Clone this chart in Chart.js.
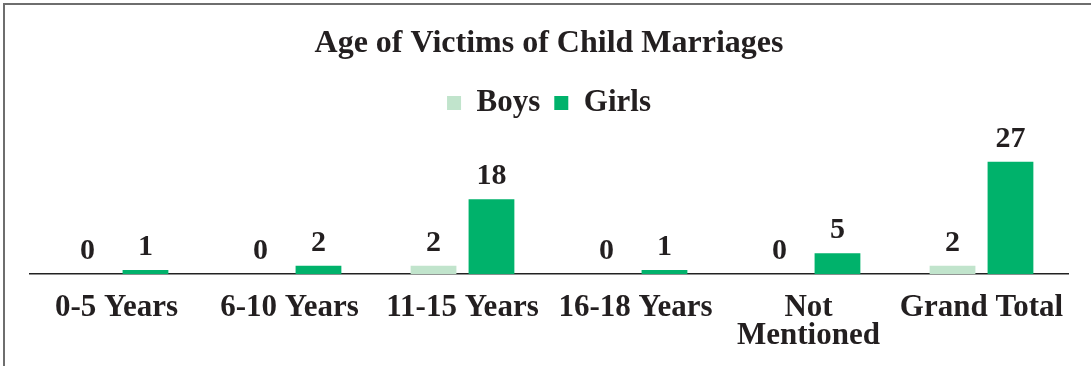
<!DOCTYPE html>
<html>
<head>
<meta charset="utf-8">
<script src="https://cdn.jsdelivr.net/npm/chart.js@4"></script>
<style>
    html, body { margin: 0; padding: 0; background: #ffffff; }
    #wrap { position: absolute; left: 0; top: 0; width: 1091px; height: 366px; }
    #marco {
        position: absolute; left: 3px; top: 3px; right: 0; bottom: 0;
        border-top: 2px solid #6e6e6e; border-left: 2px solid #6e6e6e;
        pointer-events: none;
    }
</style>
</head>
<body>
<div id="wrap"><canvas id="grafico" width="1091" height="366"></canvas></div>
<div id="marco"></div>
<script>
// ===== DATOS =====
const categorias = ['0-5 Years', '6-10 Years', '11-15 Years', '16-18 Years', ['Not', 'Mentioned'], 'Grand Total'];
const boys = [0, 0, 2, 0, 0, 2];
const girls = [1, 2, 18, 1, 5, 27];

const FUENTE = "'Liberation Serif', 'Times New Roman', serif";
const TEXTO = '#231f20';

// Etiquetas de valor encima de cada barra
const etiquetasValor = {
    id: 'etiquetasValor',
    afterDatasetsDraw(chart) {
        const ctx = chart.ctx;
        ctx.save();
        ctx.font = 'bold 30px ' + FUENTE;
        ctx.fillStyle = TEXTO;
        ctx.textAlign = 'center';
        ctx.textBaseline = 'alphabetic';
        chart.data.datasets.forEach((ds, i) => {
            const meta = chart.getDatasetMeta(i);
            meta.data.forEach((bar, j) => {
                ctx.fillText(String(ds.data[j]), bar.x, bar.y - 15);
            });
        });
        ctx.restore();
    }
};

const ctx = document.getElementById('grafico').getContext('2d');
new Chart(ctx, {
    type: 'bar',
    data: {
        labels: categorias,
        datasets: [
            {
                label: 'Boys',
                data: boys,
                backgroundColor: '#c1e4cc',
                categoryPercentage: 0.67,
                barPercentage: 0.79
            },
            {
                label: 'Girls',
                data: girls,
                backgroundColor: '#00b26b',
                categoryPercentage: 0.67,
                barPercentage: 0.79
            }
        ]
    },
    options: {
        responsive: false,
        animation: false,
        layout: { padding: { left: 30, right: 23, top: 0, bottom: 4 } },
        plugins: {
            title: {
                display: true,
                text: 'Age of Victims of Child Marriages',
                color: TEXTO,
                font: { family: FUENTE, size: 32, weight: 'bold' },
                padding: { top: 25, bottom: 10 }
            },
            legend: {
                display: true,
                labels: {
                    color: TEXTO,
                    font: { family: FUENTE, size: 31, weight: 'bold' },
                    boxWidth: 14,
                    boxHeight: 14,
                    padding: 14
                }
            },
            tooltip: { enabled: false }
        },
        scales: {
            x: {
                grid: { display: false },
                border: { display: true, color: '#222222', width: 1.5 },
                ticks: {
                    color: TEXTO,
                    font: { family: FUENTE, size: 31, weight: 'bold', lineHeight: 0.9 },
                    autoSkip: false,
                    maxRotation: 0,
                    padding: 12
                }
            },
            y: {
                display: false,
                min: 0,
                max: 35
            }
        }
    },
    plugins: [etiquetasValor]
});
</script>
</body>
</html>
